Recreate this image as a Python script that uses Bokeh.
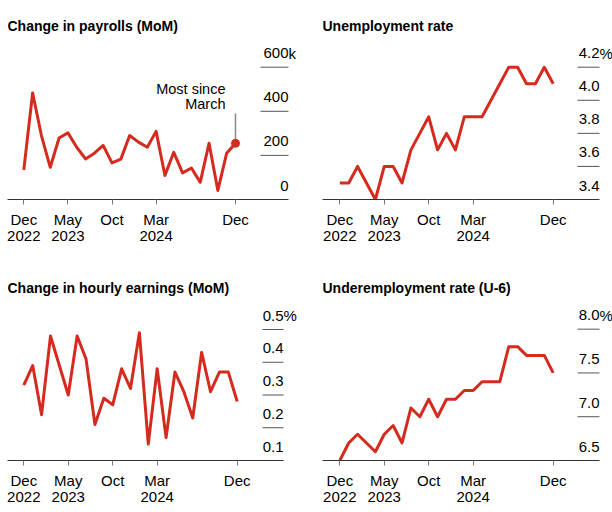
from bokeh.plotting import figure
from bokeh.models import Range1d, FixedTicker, Label, ColumnDataSource
from bokeh.layouts import gridplot
from bokeh.embed import file_html
from bokeh.resources import INLINE
from bokeh.core.properties import value

# ---------------- data ----------------
months = list(range(25))  # Dec 2022 ... Dec 2024, monthly
x_ticks = [0, 5, 10, 15, 24]
x_tick_labels = ["Dec\n2022", "May\n2023", "Oct", "Mar\n2024", "Dec"]

payrolls = [134, 483, 290, 146, 279, 302, 237, 184, 210, 245, 166, 183, 290,
            260, 237, 309, 109, 214, 121, 143, 78, 255, 41, 210, 255]
unemployment = [3.5, 3.5, 3.6, 3.5, 3.4, 3.6, 3.6, 3.5, 3.7, 3.8, 3.9, 3.7, 3.8,
                3.7, 3.9, 3.9, 3.9, 4.0, 4.1, 4.2, 4.2, 4.1, 4.1, 4.2, 4.1]
earnings = [0.33, 0.39, 0.24, 0.48, 0.39, 0.30, 0.48, 0.41, 0.21, 0.29, 0.27, 0.38, 0.32,
            0.49, 0.15, 0.38, 0.17, 0.37, 0.31, 0.23, 0.43, 0.31, 0.37, 0.37, 0.28]
u6 = [6.5, 6.7, 6.8, 6.7, 6.6, 6.8, 6.9, 6.7, 7.1, 7.0, 7.2, 7.0, 7.2,
      7.2, 7.3, 7.3, 7.4, 7.4, 7.4, 7.8, 7.8, 7.7, 7.7, 7.7, 7.5]

payroll_ticks = [0, 200, 400, 600]
payroll_tick_labels = ["0", "200", "400", "600"]
unemp_ticks = [3.4, 3.6, 3.8, 4.0, 4.2]
unemp_tick_labels = ["3.4", "3.6", "3.8", "4.0", "4.2"]
earn_ticks = [0.1, 0.2, 0.3, 0.4, 0.5]
earn_tick_labels = ["0.1", "0.2", "0.3", "0.4", "0.5"]
u6_ticks = [6.5, 7.0, 7.5, 8.0]
u6_tick_labels = ["6.5", "7.0", "7.5", "8.0"]

titles = ["Change in payrolls (MoM)", "Unemployment rate",
          "Change in hourly earnings (MoM)", "Underemployment rate (U-6)"]
annotation_lines = ["Most since", "March"]

# ---------------- style ----------------
RED = "#d52a1e"
FONT = "Liberation Sans"
W = 306
FIX = 6  # empirical lift for alphabetic-baseline text


def make_panel(series, ticks, tick_labels, suffix, title, H, fl, fr, fb,
               x0px, x24px, ytop_px, title_base, grid_len):
    pxm = (x24px - x0px) / 24.0

    def dx(px):
        return (px - x0px) / pxm

    ybv, ytv = ticks[0], ticks[-1]
    k = (ytv - ybv) / (fb - ytop_px)

    def dy(py):
        return ybv + (fb - py) * k

    p = figure(width=W, height=H, output_backend="svg", toolbar_location=None,
               title=None, x_range=Range1d(dx(fl), dx(W)),
               y_range=Range1d(ybv, dy(0)), y_axis_location=None,
               min_border_left=fl, min_border_right=0,
               min_border_top=0, min_border_bottom=H - fb)
    p.xgrid.visible = False
    p.ygrid.visible = False
    p.outline_line_color = None
    p.background_fill_color = "white"
    p.border_fill_color = "white"

    ax = p.xaxis[0]
    ax.ticker = FixedTicker(ticks=x_ticks)
    ax.bounds = (dx(fl), dx(fr))
    ax.major_label_overrides = {t: l for t, l in zip(x_ticks, x_tick_labels)}
    ax.axis_line_color = "#333333"
    ax.axis_line_width = 1
    ax.major_tick_line_color = "#777777"
    ax.major_tick_out = 5
    ax.major_tick_in = 0
    ax.minor_tick_out = 0
    ax.minor_tick_in = 0
    ax.major_label_standoff = 6
    ax.major_label_text_font = FONT
    ax.major_label_text_font_size = "15px"
    ax.major_label_text_line_height = 0.95
    ax.major_label_text_color = "#000000"

    # short right-hand gridlines (skip baseline, covered by axis)
    gx0 = dx(fr - grid_len)
    gx1 = dx(fr)
    gsrc = ColumnDataSource(dict(x0=[gx0] * (len(ticks) - 1), x1=[gx1] * (len(ticks) - 1),
                                 y=ticks[1:]))
    p.segment(x0="x0", y0="y", x1="x1", y1="y", source=gsrc,
              line_color="#555555", line_width=1)

    lsrc = ColumnDataSource(dict(x=[gx1] * len(ticks), y=ticks, t=tick_labels))
    p.text(x="x", y="y", text="t", source=lsrc, text_align="right",
           text_baseline="alphabetic", y_offset=-(8 + FIX), text_font=value(FONT),
           text_font_size="15px", text_color="#000000")
    p.text(x=[gx1], y=[ticks[-1]], text=[suffix], text_align="left",
           text_baseline="alphabetic", y_offset=-(8 + FIX), text_font=value(FONT),
           text_font_size="15px", text_color="#000000")

    p.line(months, series, line_color=RED, line_width=3, line_join="round")

    p.add_layout(Label(x=dx(fl), y=dy(title_base - FIX), text=title, text_font=FONT,
                       text_font_size="14px", text_font_style="bold",
                       text_baseline="alphabetic", text_align="left",
                       text_color="#000000"))
    return p, dx, dy


p1, dx1, dy1 = make_panel(payrolls, payroll_ticks, payroll_tick_labels, "k", titles[0],
                          261, 7, 288, 199, 23.3, 235.0, 66.7, 31, 28)
p2, _, _ = make_panel(unemployment, unemp_ticks, unemp_tick_labels, "%", titles[1],
                      261, 16, 293, 199, 33.3, 246.7, 66.7, 31, 22)
p3, _, _ = make_panel(earnings, earn_ticks, earn_tick_labels, "%", titles[2],
                      251, 7, 283, 199, 23.3, 236.7, 68, 32.3, 21)
p4, _, _ = make_panel(u6, u6_ticks, u6_tick_labels, "%", titles[3],
                      251, 16, 293, 200, 33.3, 246.7, 68, 32.3, 22)

# annotation on payrolls panel
last = months[-1]
p1.segment(x0=[last], y0=[dy1(140)], x1=[last], y1=[dy1(113)],
           line_color="#888888", line_width=1.5)
p1.scatter([last], [payrolls[-1]], size=8, color=RED)
p1.add_layout(Label(x=dx1(225), y=dy1(94.3 - FIX), text=annotation_lines[0], text_font=FONT,
                    text_font_size="14.5px", text_baseline="alphabetic",
                    text_align="right", text_color="#000000"))
p1.add_layout(Label(x=dx1(225), y=dy1(109.3 - FIX), text=annotation_lines[1], text_font=FONT,
                    text_font_size="14.5px", text_baseline="alphabetic",
                    text_align="right", text_color="#000000"))

grid = gridplot([[p1, p2], [p3, p4]], toolbar_location=None)
open("out.html", "w").write(file_html(grid, INLINE))
